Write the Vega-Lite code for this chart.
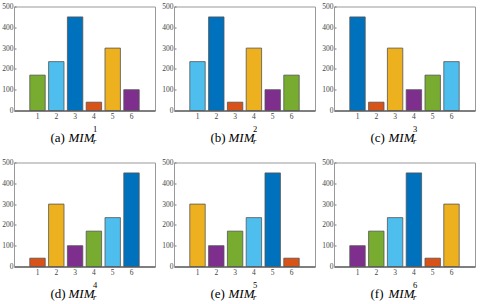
{
  "$schema": "https://vega.github.io/schema/vega-lite/v6.json",
  "padding": {"left": 1, "top": 1.5, "right": 0, "bottom": 0},
  "background": "white",
  "data": {"values": [
    {"p": "a", "x": 1, "v": 170, "s": "A"}, {"p": "a", "x": 2, "v": 235, "s": "B"}, {"p": "a", "x": 3, "v": 450, "s": "C"}, {"p": "a", "x": 4, "v": 40, "s": "D"}, {"p": "a", "x": 5, "v": 300, "s": "E"}, {"p": "a", "x": 6, "v": 100, "s": "F"},
    {"p": "b", "x": 1, "v": 235, "s": "B"}, {"p": "b", "x": 2, "v": 450, "s": "C"}, {"p": "b", "x": 3, "v": 40, "s": "D"}, {"p": "b", "x": 4, "v": 300, "s": "E"}, {"p": "b", "x": 5, "v": 100, "s": "F"}, {"p": "b", "x": 6, "v": 170, "s": "A"},
    {"p": "c", "x": 1, "v": 450, "s": "C"}, {"p": "c", "x": 2, "v": 40, "s": "D"}, {"p": "c", "x": 3, "v": 300, "s": "E"}, {"p": "c", "x": 4, "v": 100, "s": "F"}, {"p": "c", "x": 5, "v": 170, "s": "A"}, {"p": "c", "x": 6, "v": 235, "s": "B"},
    {"p": "d", "x": 1, "v": 40, "s": "D"}, {"p": "d", "x": 2, "v": 300, "s": "E"}, {"p": "d", "x": 3, "v": 100, "s": "F"}, {"p": "d", "x": 4, "v": 170, "s": "A"}, {"p": "d", "x": 5, "v": 235, "s": "B"}, {"p": "d", "x": 6, "v": 450, "s": "C"},
    {"p": "e", "x": 1, "v": 300, "s": "E"}, {"p": "e", "x": 2, "v": 100, "s": "F"}, {"p": "e", "x": 3, "v": 170, "s": "A"}, {"p": "e", "x": 4, "v": 235, "s": "B"}, {"p": "e", "x": 5, "v": 450, "s": "C"}, {"p": "e", "x": 6, "v": 40, "s": "D"},
    {"p": "f", "x": 1, "v": 100, "s": "F"}, {"p": "f", "x": 2, "v": 170, "s": "A"}, {"p": "f", "x": 3, "v": 235, "s": "B"}, {"p": "f", "x": 4, "v": 450, "s": "C"}, {"p": "f", "x": 5, "v": 40, "s": "D"}, {"p": "f", "x": 6, "v": 300, "s": "E"}
  ]},
  "columns": 3,
  "bounds": "flush",
  "spacing": {"row": 52, "column": 19},
  "concat": [
    {"width": 141, "height": 104, "transform": [{"filter": "datum.p == 'a'"}], "title": {"text": "1", "subtitle": "r"},
     "mark": {"type": "bar", "stroke": "#555", "strokeWidth": 0.8},
     "encoding": {"x": {"field": "x", "type": "ordinal", "scale": {"paddingInner": 0.18, "paddingOuter": 0.84}, "axis": {"title": "(a)"}},
                  "y": {"field": "v", "type": "quantitative", "scale": {"domain": [0, 500], "nice": false}, "axis": {"title": "MIM", "values": [0, 100, 200, 300, 400, 500]}},
                  "color": {"field": "s", "type": "nominal", "scale": {"domain": ["A", "B", "C", "D", "E", "F"], "range": ["#77AC30", "#4DBEEE", "#0072BD", "#D95319", "#EDB120", "#7E2F8E"]}, "legend": null}}},
    {"width": 141, "height": 104, "transform": [{"filter": "datum.p == 'b'"}], "title": {"text": "2", "subtitle": "r"},
     "mark": {"type": "bar", "stroke": "#555", "strokeWidth": 0.8},
     "encoding": {"x": {"field": "x", "type": "ordinal", "scale": {"paddingInner": 0.18, "paddingOuter": 0.84}, "axis": {"title": "(b)"}},
                  "y": {"field": "v", "type": "quantitative", "scale": {"domain": [0, 500], "nice": false}, "axis": {"title": "MIM", "values": [0, 100, 200, 300, 400, 500]}},
                  "color": {"field": "s", "type": "nominal", "scale": {"domain": ["A", "B", "C", "D", "E", "F"], "range": ["#77AC30", "#4DBEEE", "#0072BD", "#D95319", "#EDB120", "#7E2F8E"]}, "legend": null}}},
    {"width": 141, "height": 104, "transform": [{"filter": "datum.p == 'c'"}], "title": {"text": "3", "subtitle": "r"},
     "mark": {"type": "bar", "stroke": "#555", "strokeWidth": 0.8},
     "encoding": {"x": {"field": "x", "type": "ordinal", "scale": {"paddingInner": 0.18, "paddingOuter": 0.84}, "axis": {"title": "(c)"}},
                  "y": {"field": "v", "type": "quantitative", "scale": {"domain": [0, 500], "nice": false}, "axis": {"title": "MIM", "values": [0, 100, 200, 300, 400, 500]}},
                  "color": {"field": "s", "type": "nominal", "scale": {"domain": ["A", "B", "C", "D", "E", "F"], "range": ["#77AC30", "#4DBEEE", "#0072BD", "#D95319", "#EDB120", "#7E2F8E"]}, "legend": null}}},
    {"width": 141, "height": 104, "transform": [{"filter": "datum.p == 'd'"}], "title": {"text": "4", "subtitle": "r"},
     "mark": {"type": "bar", "stroke": "#555", "strokeWidth": 0.8},
     "encoding": {"x": {"field": "x", "type": "ordinal", "scale": {"paddingInner": 0.18, "paddingOuter": 0.84}, "axis": {"title": "(d)"}},
                  "y": {"field": "v", "type": "quantitative", "scale": {"domain": [0, 500], "nice": false}, "axis": {"title": "MIM", "values": [0, 100, 200, 300, 400, 500]}},
                  "color": {"field": "s", "type": "nominal", "scale": {"domain": ["A", "B", "C", "D", "E", "F"], "range": ["#77AC30", "#4DBEEE", "#0072BD", "#D95319", "#EDB120", "#7E2F8E"]}, "legend": null}}},
    {"width": 141, "height": 104, "transform": [{"filter": "datum.p == 'e'"}], "title": {"text": "5", "subtitle": "r"},
     "mark": {"type": "bar", "stroke": "#555", "strokeWidth": 0.8},
     "encoding": {"x": {"field": "x", "type": "ordinal", "scale": {"paddingInner": 0.18, "paddingOuter": 0.84}, "axis": {"title": "(e)"}},
                  "y": {"field": "v", "type": "quantitative", "scale": {"domain": [0, 500], "nice": false}, "axis": {"title": "MIM", "values": [0, 100, 200, 300, 400, 500]}},
                  "color": {"field": "s", "type": "nominal", "scale": {"domain": ["A", "B", "C", "D", "E", "F"], "range": ["#77AC30", "#4DBEEE", "#0072BD", "#D95319", "#EDB120", "#7E2F8E"]}, "legend": null}}},
    {"width": 141, "height": 104, "transform": [{"filter": "datum.p == 'f'"}], "title": {"text": "6", "subtitle": "r"},
     "mark": {"type": "bar", "stroke": "#555", "strokeWidth": 0.8},
     "encoding": {"x": {"field": "x", "type": "ordinal", "scale": {"paddingInner": 0.18, "paddingOuter": 0.84}, "axis": {"title": "(f)"}},
                  "y": {"field": "v", "type": "quantitative", "scale": {"domain": [0, 500], "nice": false}, "axis": {"title": "MIM", "values": [0, 100, 200, 300, 400, 500]}},
                  "color": {"field": "s", "type": "nominal", "scale": {"domain": ["A", "B", "C", "D", "E", "F"], "range": ["#77AC30", "#4DBEEE", "#0072BD", "#D95319", "#EDB120", "#7E2F8E"]}, "legend": null}}}
  ],
  "config": {
    "font": "Liberation Serif",
    "view": {"stroke": "#999", "strokeWidth": 1},
    "axis": {"grid": false, "labelOverlap": false, "labelFont": "Liberation Serif", "labelFontSize": 7.5, "labelColor": "#444", "tickColor": "#777", "tickSize": -2, "titleFont": "Liberation Serif", "titleFontWeight": "normal", "titleFontSize": 13, "titleColor": "#000"},
    "axisX": {"labelAngle": 0, "labelPadding": 4, "domainColor": "#333", "titleX": 36, "titleY": 30.5, "titleAlign": "left", "titleBaseline": "alphabetic"},
    "axisY": {"labelPadding": 3, "domainColor": "#999", "titleAngle": 0, "titleX": 54, "titleY": 134.5, "titleAlign": "left", "titleBaseline": "alphabetic", "titleFontStyle": "italic"},
    "title": {"orient": "bottom", "anchor": "start", "frame": "group", "dx": 79, "dy": -23, "offset": 0, "font": "Liberation Serif", "fontSize": 8.5, "fontWeight": "normal", "color": "#000", "subtitleFont": "Liberation Serif", "subtitleFontSize": 8.5, "subtitleFontStyle": "italic", "subtitleColor": "#000", "subtitlePadding": 3}
  }
}
